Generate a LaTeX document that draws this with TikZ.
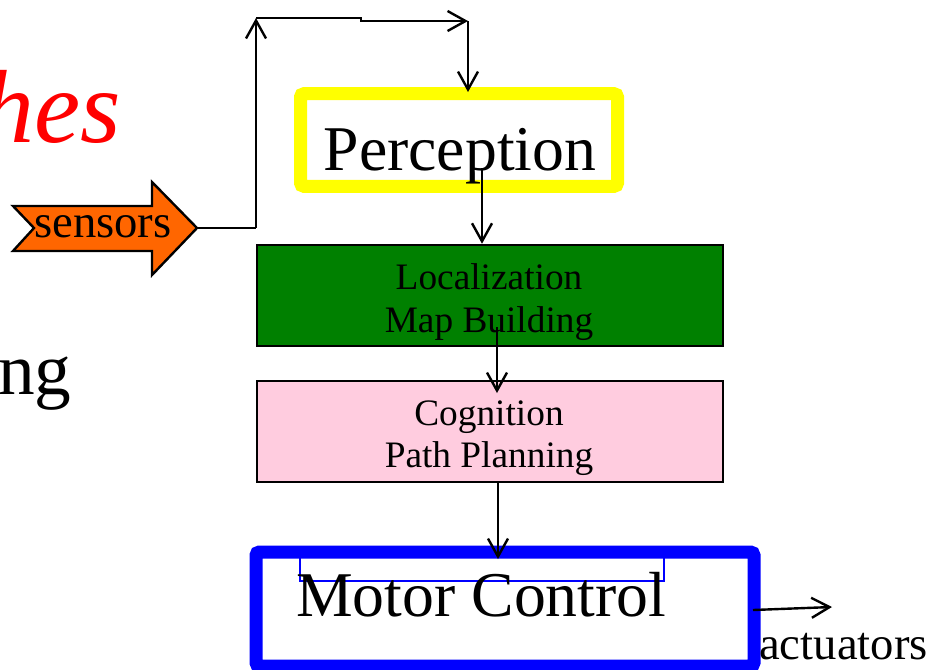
\documentclass[tikz,border=0pt]{standalone}
\usepackage{fontspec}
\setmainfont{Liberation Serif}
\usetikzlibrary{arrows.meta}
\definecolor{sensorange}{HTML}{FF6600}
\definecolor{locgreen}{HTML}{008000}
\definecolor{cogpink}{HTML}{FFCCDF}
\definecolor{percyellow}{HTML}{FFFF00}
\definecolor{motorblue}{HTML}{0000FF}
\tikzset{
  flow/.style={draw=black, line width=1.8pt, -{Straight Barb[length=13.5pt, width=15pt, line width=1.8pt]}},
  wire/.style={draw=black, line width=1.8pt},
  thickframe/.style={rectangle, line width=9.75pt, rounded corners=2.5pt, fill=white, inner sep=0pt},
  plainbox/.style={rectangle, draw=black, line width=1.9pt, inner sep=0pt,
    minimum width=349.5pt, minimum height=75.75pt},
  boxlabel/.style={inner sep=0pt, anchor=base, font=\fontsize{28}{32}\selectfont},
  biglabel/.style={inner sep=0pt, anchor=base, font=\fontsize{47.8}{52}\selectfont},
  midlabel/.style={inner sep=0pt, anchor=base, font=\fontsize{35}{40}\selectfont},
}
\begin{document}
\begin{tikzpicture}[x=0.75pt, y=-0.75pt]
\useasboundingbox (0,0) rectangle (935,669);
\clip (0,0) rectangle (935,669);

% title fragments on the left
\node[inner sep=0pt, anchor=base east, text=red, font=\fontsize{78}{84}\itshape] (title) at (121,142) {hes};
\node[inner sep=0pt, anchor=base west, font=\fontsize{55}{60}\selectfont] (subtitle) at (-2,394) {ng};

% sensors input arrow
\draw[fill=sensorange, draw=black, line width=1.8pt, line join=miter]
  (13,206) -- (152,206) -- (152,182) -- (197,228) -- (152,275) -- (152,251)
  -- (13,251) -- (34,228) -- cycle;
\coordinate (sensortip) at (197,228);
\node[midlabel] (sensors) at (103,237) {sensors};

% blocks
\node[thickframe, draw=percyellow, minimum width=237.75pt, minimum height=69.4pt] (perc) at (459,140) {};
\node[biglabel] (perctext) at (460,170) {Perception};

\node[plainbox, fill=locgreen] (loc) at (490,295.5) {};
\node[boxlabel] (loc1) at (489,289) {Localization};
\node[boxlabel] (loc2) at (489,332) {Map Building};

\node[plainbox, fill=cogpink] (cog) at (490,431.5) {};
\node[boxlabel] (cog1) at (489,425) {Cognition};
\node[boxlabel] (cog2) at (489,467) {Path Planning};

\node[thickframe, draw=motorblue, minimum width=373.5pt, minimum height=85.5pt] (motor) at (505,609) {};
\draw[motorblue, line width=1.5pt] (300,556) -- (300,581) -- (664,581) -- (664,556);
\node[biglabel, anchor=base west] (motortext) at (296,616) {Motor Control};

\node[midlabel, anchor=base west] (act) at (759,659) {actuators};

% connectors
\coordinate (upturn) at (256,228);
\coordinate (topleft) at (256,18);
\coordinate (step) at (361,18);
\coordinate (topright) at (468,21);
\coordinate (percin) at (468,92);
\draw[wire] (sensortip) -- (upturn);
\draw[flow] (upturn) -- (topleft);
\draw[flow] (topleft) -- (step) -- (step |- topright) -- (topright);
\draw[flow] (topright) -- (percin);

\coordinate (percout) at (482,168);
\draw[flow] (percout) -- (percout |- loc.north);

\coordinate (locout) at (497,327);
\coordinate (cogin) at (497,393);
\draw[flow] (locout) -- (cogin);

\coordinate (cogout) at (498,483);
\coordinate (motorin) at (498,559);
\draw[flow] (cogout) -- (motorin);

\coordinate (motorout) at (753,610);
\coordinate (actin) at (832,607);
\draw[flow] (motorout) -- (actin);
\end{tikzpicture}
\end{document}
